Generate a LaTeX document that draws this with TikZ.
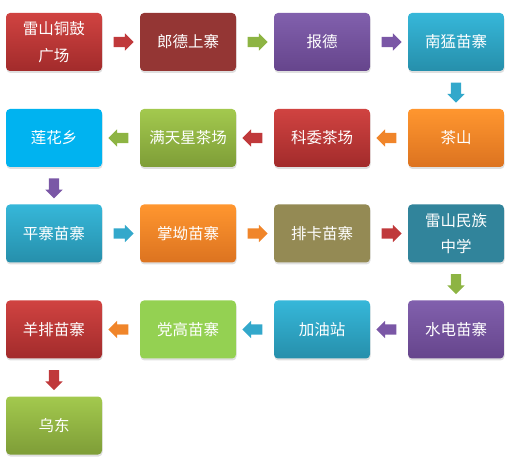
\documentclass[tikz,border=0pt]{standalone}
\usepackage{fontspec}
\newfontfamily\cjk{Noto Sans CJK SC}
\usetikzlibrary{shapes.arrows,shadows,calc}
% Colours
\definecolor{redT}{HTML}{D04341}
\definecolor{redB}{HTML}{A22B2B}
\definecolor{darkred}{HTML}{943634}
\definecolor{purpleT}{HTML}{8160AD}
\definecolor{purpleB}{HTML}{66458C}
\definecolor{blueT}{HTML}{36B7D9}
\definecolor{blueB}{HTML}{268FAB}
\definecolor{orangeT}{HTML}{FF962F}
\definecolor{orangeB}{HTML}{DC7320}
\definecolor{greenT}{HTML}{A3C94E}
\definecolor{greenB}{HTML}{7E9D37}
\definecolor{skyblue}{HTML}{00B3F0}
\definecolor{olive}{HTML}{948A54}
\definecolor{teal}{HTML}{31849B}
\definecolor{lime}{HTML}{94D152}
\definecolor{arrred}{HTML}{C0393B}
\definecolor{arrgreen}{HTML}{8DB443}
\definecolor{arrpurple}{HTML}{7A57A6}
\definecolor{arrblue}{HTML}{33A8CB}
\definecolor{arrorange}{HTML}{F0852A}
\begin{document}
\begin{tikzpicture}[x=1pt, y=1pt,
    box/.style={rounded corners=4pt, minimum width=96pt, minimum height=58pt,
        text=white, align=center, font=\cjk\fontsize{15.5}{26.5}\selectfont,
        drop shadow={opacity=0.25, shadow xshift=0.5pt, shadow yshift=-2pt}},
    redbox/.style={box, top color=redT, bottom color=redB},
    purplebox/.style={box, top color=purpleT, bottom color=purpleB},
    bluebox/.style={box, top color=blueT, bottom color=blueB},
    orangebox/.style={box, top color=orangeT, bottom color=orangeB},
    greenbox/.style={box, top color=greenT, bottom color=greenB},
    flatbox/.style={box, fill=#1},
    arr/.style={single arrow, inner sep=5pt, single arrow head extend=3.5pt,
        minimum height=20pt, fill=#1},
    larr/.style={arr=#1, shape border rotate=180},
    darr/.style={arr=#1, shape border rotate=270}]
    \useasboundingbox (0,0) rectangle (517,469);
    % Row 1
    \node[redbox] (gulou) at (54,427) {雷山铜鼓\\广场};
    \node[flatbox=darkred] (langde) at (188,427) {郎德上寨};
    \node[purplebox] (baode) at (322,427) {报德};
    \node[bluebox] (nanmeng) at (456,427) {南猛苗寨};
    % Row 2
    \node[flatbox=skyblue] (lianhua) at (54,331) {莲花乡};
    \node[greenbox] (mantian) at (188,331) {满天星茶场};
    \node[redbox] (kewei) at (322,331) {科委茶场};
    \node[orangebox] (chashan) at (456,331) {茶山};
    % Row 3
    \node[bluebox] (pingzhai) at (54,235.5) {平寨苗寨};
    \node[orangebox] (zhangao) at (188,235.5) {掌坳苗寨};
    \node[flatbox=olive] (paika) at (322,235.5) {排卡苗寨};
    \node[flatbox=teal] (minzu) at (456,235.5) {雷山民族\\中学};
    % Row 4
    \node[redbox] (yangpai) at (54,139.5) {羊排苗寨};
    \node[flatbox=lime] (danggao) at (188,139.5) {党高苗寨};
    \node[bluebox] (jiayou) at (322,139.5) {加油站};
    \node[purplebox] (shuidian) at (456,139.5) {水电苗寨};
    % Row 5
    \node[greenbox] (wudong) at (54,43.5) {乌东};
    % Block arrows
    \node[arr=arrred] at ($(gulou.east)!0.5!(langde.west)$) {};
    \node[arr=arrgreen] at ($(langde.east)!0.5!(baode.west)$) {};
    \node[arr=arrpurple] at ($(baode.east)!0.5!(nanmeng.west)$) {};
    \node[darr=arrblue] at ($(nanmeng.south)!0.5!(chashan.north)$) {};
    \node[larr=arrorange] at ($(chashan.west)!0.5!(kewei.east)$) {};
    \node[larr=arrred] at ($(kewei.west)!0.5!(mantian.east)$) {};
    \node[larr=arrgreen] at ($(mantian.west)!0.5!(lianhua.east)$) {};
    \node[darr=arrpurple] at ($(lianhua.south)!0.5!(pingzhai.north)$) {};
    \node[arr=arrblue] at ($(pingzhai.east)!0.5!(zhangao.west)$) {};
    \node[arr=arrorange] at ($(zhangao.east)!0.5!(paika.west)$) {};
    \node[arr=arrred] at ($(paika.east)!0.5!(minzu.west)$) {};
    \node[darr=arrgreen] at ($(minzu.south)!0.5!(shuidian.north)$) {};
    \node[larr=arrpurple] at ($(shuidian.west)!0.5!(jiayou.east)$) {};
    \node[larr=arrblue] at ($(jiayou.west)!0.5!(danggao.east)$) {};
    \node[larr=arrorange] at ($(danggao.west)!0.5!(yangpai.east)$) {};
    \node[darr=arrred] at ($(yangpai.south)!0.5!(wudong.north)$) {};
\end{tikzpicture}
\end{document}
